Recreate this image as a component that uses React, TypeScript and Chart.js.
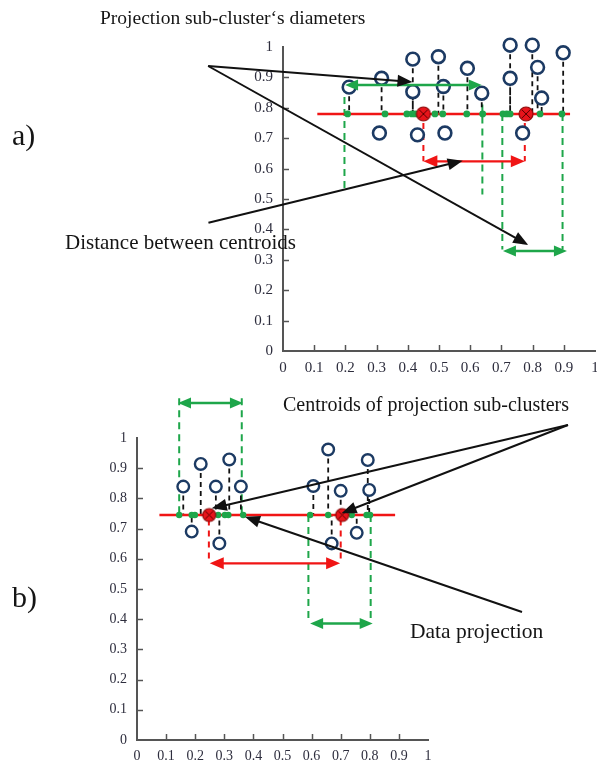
import React, { useEffect, useRef } from 'react';
import { Chart, registerables } from 'chart.js';
Chart.register(...registerables);

const FONT = "'Liberation Serif', 'Times New Roman', serif";

// ---------- Panel a data ----------
const A_CIRCLE_X = [0.212, 0.316, 0.309, 0.416, 0.416, 0.431, 0.498, 0.514, 0.519, 0.591, 0.637, 0.728, 0.728, 0.768, 0.799, 0.816, 0.829, 0.898];
const A_CIRCLE_Y = [0.868, 0.897, 0.717, 0.960, 0.853, 0.711, 0.968, 0.870, 0.717, 0.930, 0.848, 1.006, 0.897, 0.717, 1.006, 0.933, 0.832, 0.981];
const A_PROJ_X = [0.207, 0.327, 0.397, 0.413, 0.423, 0.487, 0.512, 0.589, 0.640, 0.705, 0.717, 0.728, 0.824, 0.894];
const A_LINE_Y = 0.78;
const A_LINE_X = [0.11, 0.92];
const A_CENTROID_X = [0.45, 0.779];
const A_GREEN_DASH = [[0.197, 0.875, 0.52], [0.639, 0.85, 0.515], [0.703, 0.78, 0.334], [0.896, 0.78, 0.334]];
const A_RED_DASH = [[0.45, 0.75, 0.624], [0.775, 0.75, 0.624]];
const A_GREEN_ARROWS = [[0.199, 0.875, 0.637, 0.875], [0.705, 0.329, 0.91, 0.329]];
const A_RED_ARROWS = [[0.45, 0.624, 0.775, 0.624]];
const A_BLACK_ARROWS = [[-0.24, 0.9375, 0.415, 0.885], [-0.24, 0.9375, 0.786, 0.349], [-0.239, 0.422, 0.576, 0.626]];

// ---------- Panel b data ----------
const B_CIRCLE_X = [0.159, 0.219, 0.188, 0.271, 0.317, 0.283, 0.357, 0.606, 0.657, 0.669, 0.700, 0.755, 0.793, 0.798];
const B_CIRCLE_Y = [0.839, 0.914, 0.690, 0.839, 0.929, 0.651, 0.839, 0.841, 0.962, 0.651, 0.825, 0.686, 0.927, 0.828];
const B_PROJ_X = [0.145, 0.188, 0.199, 0.279, 0.302, 0.314, 0.365, 0.595, 0.657, 0.738, 0.789, 0.801];
const B_LINE_Y = 0.745;
const B_LINE_X = [0.077, 0.887];
const B_CENTROID_X = [0.248, 0.705];
const B_GREEN_DASH = [[0.145, 1.132, 0.745], [0.36, 1.132, 0.745], [0.589, 0.745, 0.397], [0.803, 0.745, 0.397]];
const B_RED_DASH = [[0.247, 0.73, 0.585], [0.70, 0.73, 0.585]];
const B_GREEN_ARROWS = [[0.141, 1.116, 0.364, 1.116], [0.595, 0.386, 0.81, 0.386]];
const B_RED_ARROWS = [[0.25, 0.585, 0.698, 0.585]];
const B_BLACK_ARROWS = [[1.481, 1.043, 0.257, 0.767], [1.481, 1.043, 0.703, 0.751], [1.323, 0.424, 0.371, 0.739]];

const AXIS_TICKS = [0, 0.1, 0.2, 0.3, 0.4, 0.5, 0.6, 0.7, 0.8, 0.9, 1];

type Spec = {
  cx: number[]; cy: number[]; proj: number[]; lineY: number; lineX: number[]; cent: number[];
  gDash: number[][]; rDash: number[][]; gArr: number[][]; rArr: number[][]; kArr: number[][];
  stemsAll: boolean;
  style: { r: number; bw: number; dot: number; cent: number; font: number };
  layout: { left: number; right: number; top: number; bottom: number };
};

const NAVY = '#1c3a63';
const GREEN = '#1ea64a';
const RED = '#f01515';

function centroidImage(r: number) {
  const c = document.createElement('canvas');
  const s = Math.ceil(r * 2 + 4);
  c.width = s; c.height = s;
  const g = c.getContext('2d')!;
  const m = s / 2;
  g.beginPath(); g.arc(m, m, r, 0, Math.PI * 2);
  g.fillStyle = '#e8141b'; g.fill();
  g.lineWidth = 1.2; g.strokeStyle = '#8a0a0a'; g.stroke();
  const d = r * 0.6;
  g.beginPath(); g.moveTo(m - d, m - d); g.lineTo(m + d, m + d); g.moveTo(m + d, m - d); g.lineTo(m - d, m + d);
  g.lineWidth = 1; g.strokeStyle = '#5a0000'; g.stroke();
  return c;
}

function segData(list: number[][]) {
  const out: any[] = [];
  list.forEach(([x, y1, y2]) => { out.push({ x, y: y1 }, { x, y: y2 }, { x: null, y: null }); });
  return out;
}

function drawHead(ctx: CanvasRenderingContext2D, tx: number, ty: number, fx: number, fy: number, len: number, w: number) {
  const a = Math.atan2(ty - fy, tx - fx);
  const bx = tx - len * Math.cos(a), by = ty - len * Math.sin(a);
  const nx = -Math.sin(a) * w / 2, ny = Math.cos(a) * w / 2;
  ctx.beginPath(); ctx.moveTo(tx, ty); ctx.lineTo(bx + nx, by + ny); ctx.lineTo(bx - nx, by - ny); ctx.closePath(); ctx.fill();
}

function drawArrow(ctx: CanvasRenderingContext2D, x1: number, y1: number, x2: number, y2: number, color: string, lw: number, len: number, w: number, both: boolean) {
  ctx.save();
  ctx.strokeStyle = color; ctx.fillStyle = color; ctx.lineWidth = lw; ctx.setLineDash([]);
  const a = Math.atan2(y2 - y1, x2 - x1);
  const sx = both ? x1 + (len - 2) * Math.cos(a) : x1, sy = both ? y1 + (len - 2) * Math.sin(a) : y1;
  const ex = x2 - (len - 2) * Math.cos(a), ey = y2 - (len - 2) * Math.sin(a);
  ctx.beginPath(); ctx.moveTo(sx, sy); ctx.lineTo(ex, ey); ctx.stroke();
  drawHead(ctx, x2, y2, x1, y1, len, w);
  if (both) drawHead(ctx, x1, y1, x2, y2, len, w);
  ctx.restore();
}

const panelPlugin = {
  id: 'panel',
  afterDatasetsDraw(chart: any, _args: any, opts: any) {
    const { ctx } = chart;
    const x = chart.scales.x, y = chart.scales.y;
    ctx.save();
    ctx.strokeStyle = '#555'; ctx.lineWidth = 1.5;
    AXIS_TICKS.forEach((v) => {
      if (v <= 0 || v >= 1) return;
      const px = Math.round(x.getPixelForValue(v)) + 0.5;
      ctx.beginPath(); ctx.moveTo(px, y.bottom); ctx.lineTo(px, y.bottom - 6); ctx.stroke();
      const py = Math.round(y.getPixelForValue(v)) + 0.5;
      ctx.beginPath(); ctx.moveTo(x.left, py); ctx.lineTo(x.left + 6, py); ctx.stroke();
    });
    ctx.restore();
    const P = (a: number[]) => [x.getPixelForValue(a[0]), y.getPixelForValue(a[1]), x.getPixelForValue(a[2]), y.getPixelForValue(a[3])];
    (opts.gArr || []).forEach((a: number[]) => { const p = P(a); drawArrow(ctx, p[0], p[1], p[2], p[3], GREEN, 2.5, 13, 11, true); });
    (opts.rArr || []).forEach((a: number[]) => { const p = P(a); drawArrow(ctx, p[0], p[1], p[2], p[3], RED, 2.2, 14, 12, true); });
    (opts.kArr || []).forEach((a: number[]) => { const p = P(a); drawArrow(ctx, p[0], p[1], p[2], p[3], '#111', 2, 15, 12, false); });
  },
};

function PanelChart({ spec, top, height }: { spec: Spec; top: number; height: number }) {
  const ref = useRef<HTMLCanvasElement>(null);
  useEffect(() => {
    const s = spec;
    const st = s.style;
    const stems: number[][] = [];
    s.cx.forEach((x, i) => {
      if (s.stemsAll || s.cy[i] > s.lineY) stems.push([x, s.cy[i], s.lineY]);
    });
    const base = { showLine: false, clip: false as any };
    const tickFmt = (v: any) => String(Math.round(v * 10) / 10);
    const chart = new Chart(ref.current!, {
      type: 'scatter',
      data: {
        datasets: [
          { ...base, order: 0, data: s.cent.map((x) => ({ x, y: s.lineY })), pointStyle: centroidImage(st.cent) as any, pointRadius: st.cent },
          { ...base, order: 1, data: s.cx.map((x, i) => ({ x, y: s.cy[i] })), pointRadius: st.r, borderWidth: st.bw, borderColor: NAVY, backgroundColor: '#fff' },
          { ...base, order: 2, data: s.proj.map((x) => ({ x, y: s.lineY })), pointRadius: st.dot, borderWidth: 0, backgroundColor: GREEN },
          { ...base, order: 3, showLine: true, data: s.lineX.map((x) => ({ x, y: s.lineY })), pointRadius: 0, borderColor: RED, borderWidth: 2.5 },
          { ...base, order: 4, showLine: true, data: segData(stems), pointRadius: 0, borderColor: '#111', borderWidth: 1.8, borderDash: [5, 4], spanGaps: false },
          { ...base, order: 5, showLine: true, data: segData(s.gDash), pointRadius: 0, borderColor: GREEN, borderWidth: 2, borderDash: [7, 5], spanGaps: false },
          { ...base, order: 5, showLine: true, data: segData(s.rDash), pointRadius: 0, borderColor: RED, borderWidth: 2, borderDash: [6, 5], spanGaps: false },
        ] as any,
      },
      options: {
        animation: false,
        responsive: false,
        events: [],
        layout: { padding: s.layout },
        plugins: { legend: { display: false }, tooltip: { enabled: false }, panel: { gArr: s.gArr, rArr: s.rArr, kArr: s.kArr } } as any,
        scales: {
          x: {
            type: 'linear', min: 0, max: 1,
            afterFit: (sc: any) => { sc.height = 22; },
            grid: { display: false, drawTicks: false },
            border: { display: true, color: '#555', width: 2 },
            ticks: { stepSize: 0.1, autoSkip: false, maxRotation: 0, padding: 8, color: '#2d2d3d', font: { family: FONT, size: st.font }, callback: tickFmt },
          },
          y: {
            type: 'linear', min: 0, max: 1,
            afterFit: (sc: any) => { sc.width = 40; },
            grid: { display: false, drawTicks: false },
            border: { display: true, color: '#555', width: 2 },
            ticks: { stepSize: 0.1, autoSkip: false, padding: 10, color: '#2d2d3d', font: { family: FONT, size: st.font }, callback: tickFmt },
          },
        },
      },
      plugins: [panelPlugin as any],
    });
    return () => chart.destroy();
  }, [spec]);
  return <canvas ref={ref} width={640} height={height} style={{ position: 'absolute', left: 0, top, width: 640, height }} />;
}

const SPEC_A: Spec = {
  cx: A_CIRCLE_X, cy: A_CIRCLE_Y, proj: A_PROJ_X, lineY: A_LINE_Y, lineX: A_LINE_X, cent: A_CENTROID_X,
  gDash: A_GREEN_DASH, rDash: A_RED_DASH, gArr: A_GREEN_ARROWS, rArr: A_RED_ARROWS, kArr: A_BLACK_ARROWS,
  stemsAll: false,
  style: { r: 6.4, bw: 2.6, dot: 3.4, cent: 7, font: 15 },
  layout: { left: 243, right: 45, top: 47, bottom: 7 },
};
const SPEC_B: Spec = {
  cx: B_CIRCLE_X, cy: B_CIRCLE_Y, proj: B_PROJ_X, lineY: B_LINE_Y, lineX: B_LINE_X, cent: B_CENTROID_X,
  gDash: B_GREEN_DASH, rDash: B_RED_DASH, gArr: B_GREEN_ARROWS, rArr: B_RED_ARROWS, kArr: B_BLACK_ARROWS,
  stemsAll: true,
  style: { r: 5.8, bw: 2.4, dot: 3.2, cent: 6.5, font: 14 },
  layout: { left: 97, right: 212, top: 58, bottom: 2 },
};

const textStyle = (left: number, top: number, size: number): React.CSSProperties => ({
  position: 'absolute', left, top, fontFamily: FONT, fontSize: size, color: '#151515', whiteSpace: 'nowrap', lineHeight: 1,
});

export default function App() {
  return (
    <div style={{ position: 'absolute', left: 0, top: 0, width: 597, height: 764, overflow: 'hidden', background: '#fff' }}>
      <PanelChart spec={SPEC_A} top={0} height={380} />
      <PanelChart spec={SPEC_B} top={380} height={384} />
      <div style={textStyle(100, 8, 19.5)}>Projection sub-cluster‘s diameters</div>
      <div style={textStyle(12, 120, 30)}>a)</div>
      <div style={textStyle(65, 232, 21)}>Distance between centroids</div>
      <div style={textStyle(283, 394, 20)}>Centroids of projection sub-clusters</div>
      <div style={textStyle(12, 582, 30)}>b)</div>
      <div style={textStyle(410, 621, 21.5)}>Data projection</div>
    </div>
  );
}
